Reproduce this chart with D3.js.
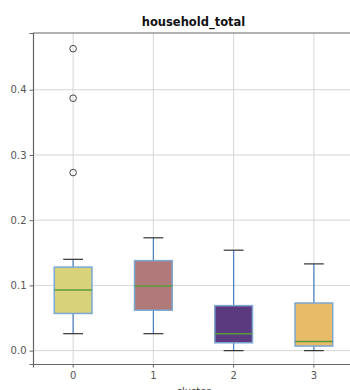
<!DOCTYPE html>
<html>
<head>
<meta charset="utf-8">
<script src="https://cdn.jsdelivr.net/npm/d3@7"></script>
<style>
  body { margin: 0; background: #fff; }
  svg { display: block; font-family: "DejaVu Sans", sans-serif; }
</style>
</head>
<body>
<svg id="root" width="350" height="390"></svg>
<script>
(function () {
  // box stats
  const clusters = ["0", "1", "2", "3"];
  const lowWhisker = [0.026, 0.026, 0.0, 0.0];
  const q1 = [0.057, 0.062, 0.012, 0.007];
  const medians = [0.093, 0.099, 0.026, 0.014];
  const q3 = [0.128, 0.138, 0.069, 0.073];
  const highWhisker = [0.140, 0.173, 0.154, 0.133];
  const outliers = [[0.463, 0.387, 0.273], [], [], []];
  const fills = ["#d8d37b", "#b07a7a", "#5b3a80", "#e8bb69"];
  const yTicks = [0.0, 0.1, 0.2, 0.3, 0.4];

  let svg = d3.select("#root");
  let margin = { left: 33, top: 33, right: -4, bottom: 26 };
  let width = 350 - margin.left - margin.right;
  let height = 390 - margin.top - margin.bottom;

  let x = d3.scaleBand()
    .domain(clusters)
    .range([margin.left, margin.left + width])
    .paddingInner(0)
    .paddingOuter(0);

  let y = d3.scaleLinear()
    .domain([-0.0205, 0.487])
    .range([margin.top + height, margin.top]);

  let boxes = clusters.map((c, i) => ({
    c: c, lo: lowWhisker[i], q1: q1[i], med: medians[i], q3: q3[i],
    hi: highWhisker[i], out: outliers[i], fill: fills[i]
  }));

  let cx = c => x(c) + x.bandwidth() / 2;
  let boxW = x.bandwidth() * 0.47;
  let capW = boxW / 2 + 1;

  // grid
  let grid = svg.append("g");
  grid.selectAll(".hgrid")
    .data(yTicks)
    .enter().append("line")
    .attr("x1", margin.left).attr("x2", margin.left + width)
    .attr("y1", d => y(d)).attr("y2", d => y(d))
    .attr("stroke", "#d6d6d6").attr("stroke-width", 1);
  grid.selectAll(".vgrid")
    .data(clusters)
    .enter().append("line")
    .attr("x1", cx).attr("x2", cx)
    .attr("y1", margin.top).attr("y2", margin.top + height)
    .attr("stroke", "#d6d6d6").attr("stroke-width", 1);

  // whiskers
  let g = svg.append("g");
  g.selectAll(".whisk-lo")
    .data(boxes).enter().append("line")
    .attr("x1", d => cx(d.c)).attr("x2", d => cx(d.c))
    .attr("y1", d => y(d.lo)).attr("y2", d => y(d.q1))
    .attr("stroke", "#4a80bf").attr("stroke-width", 1.2);
  g.selectAll(".whisk-hi")
    .data(boxes).enter().append("line")
    .attr("x1", d => cx(d.c)).attr("x2", d => cx(d.c))
    .attr("y1", d => y(d.hi)).attr("y2", d => y(d.q3))
    .attr("stroke", "#4a80bf").attr("stroke-width", 1.2);

  // caps
  ["lo", "hi"].forEach(k => {
    g.selectAll(".cap-" + k)
      .data(boxes).enter().append("line")
      .attr("x1", d => cx(d.c) - capW / 2).attr("x2", d => cx(d.c) + capW / 2)
      .attr("y1", d => y(d[k])).attr("y2", d => y(d[k]))
      .attr("stroke", "#333").attr("stroke-width", 1.2);
  });

  // boxes
  g.selectAll(".box")
    .data(boxes).enter().append("rect")
    .attr("x", d => cx(d.c) - boxW / 2)
    .attr("width", boxW)
    .attr("y", d => y(d.q3))
    .attr("height", d => y(d.q1) - y(d.q3))
    .attr("fill", d => d.fill)
    .attr("stroke", "#7ba7d2").attr("stroke-width", 1.5);

  // medians
  g.selectAll(".median")
    .data(boxes).enter().append("line")
    .attr("x1", d => cx(d.c) - boxW / 2).attr("x2", d => cx(d.c) + boxW / 2)
    .attr("y1", d => y(d.med)).attr("y2", d => y(d.med))
    .attr("stroke", "#5a9c3c").attr("stroke-width", 1.5);

  // fliers
  let fl = [];
  boxes.forEach(b => b.out.forEach(v => fl.push({ c: b.c, v: v })));
  g.selectAll(".flier")
    .data(fl).enter().append("circle")
    .attr("cx", d => cx(d.c)).attr("cy", d => y(d.v))
    .attr("r", 3.3)
    .attr("fill", "none").attr("stroke", "#444").attr("stroke-width", 1);

  // axes
  let yAxis = svg.append("g")
    .attr("transform", `translate(${margin.left},0)`)
    .call(d3.axisLeft(y).tickValues(yTicks).tickFormat(d3.format(".1f")).tickSize(3.5).tickPadding(3));
  let xAxis = svg.append("g")
    .attr("transform", `translate(0,${margin.top + height})`)
    .call(d3.axisBottom(x).tickSize(3.5).tickPadding(4));

  [xAxis, yAxis].forEach(a => {
    a.select(".domain").attr("stroke", "#666").attr("stroke-width", 1.2);
    a.selectAll(".tick line").attr("stroke", "#666");
    a.selectAll(".tick text").attr("fill", "#555").attr("font-size", 10)
      .attr("font-family", "DejaVu Sans, sans-serif");
  });

  // top spine
  svg.append("line")
    .attr("x1", margin.left).attr("x2", margin.left + width)
    .attr("y1", margin.top).attr("y2", margin.top)
    .attr("stroke", "#666").attr("stroke-width", 1.2);

  // title and x label (label runs off the bottom edge, as in the source)
  svg.append("text")
    .attr("x", margin.left + width / 2).attr("y", 26)
    .attr("text-anchor", "middle")
    .attr("font-size", 11.5).attr("font-weight", "bold").attr("fill", "#111")
    .text("household_total");

  svg.append("text")
    .attr("x", margin.left + width / 2).attr("y", 394.5)
    .attr("text-anchor", "middle")
    .attr("font-size", 10).attr("fill", "#444")
    .text("cluster");
})();
</script>
</body>
</html>
